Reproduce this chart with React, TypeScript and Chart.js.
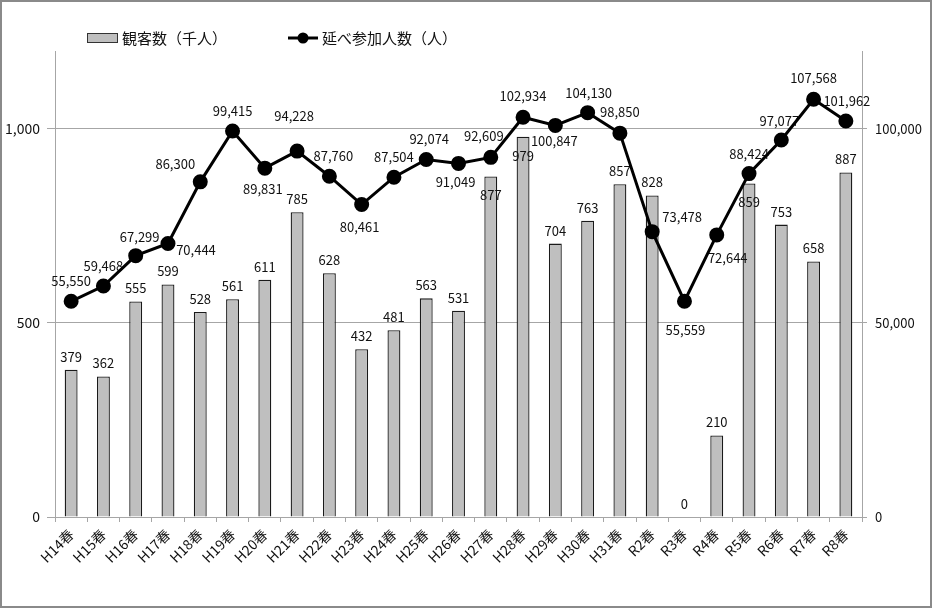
import React, { useEffect, useRef } from "react";
import { Chart, registerables } from "chart.js";

Chart.register(...registerables);

const FONT = '"Noto Sans CJK JP", "Noto Sans", sans-serif';

const categories = [
  "H14春", "H15春", "H16春", "H17春", "H18春", "H19春", "H20春", "H21春", "H22春",
  "H23春", "H24春", "H25春", "H26春", "H27春", "H28春", "H29春", "H30春", "H31春",
  "R2春", "R3春", "R4春", "R5春", "R6春", "R7春", "R8春",
];

// 観客数（千人）
const audience = [
  379, 362, 555, 599, 528, 561, 611, 785, 628, 432, 481, 563, 531, 877, 979, 704,
  763, 857, 828, 0, 210, 859, 753, 658, 887,
];

// 延べ参加人数（人）
const participants = [
  55550, 59468, 67299, 70444, 86300, 99415, 89831, 94228, 87760, 80461, 87504, 92074,
  91049, 92609, 102934, 100847, 104130, 98850, 73478, 55559, 72644, 88424, 97077,
  107568, 101962,
];

const leftTicks = [0, 500, 1000];
const rightTicks = [0, 50000, 100000];

const legendBar = "観客数（千人）";
const legendLine = "延べ参加人数（人）";

// label placement (offset of label centre from its point), style only
const lineLabelOffsets: [number, number][] = [
  [0, -20], [0, -20], [4, -19], [28, 7], [-25, -18], [0, -20], [-2, 21], [-3, -35],
  [4, -20], [-2, 23], [0, -20], [3, -20], [-3, 19], [-7, -21], [0, -21], [-1, 16],
  [1, -20], [0, -21], [30, -15], [1, 29], [11, 23], [0, -20], [-2, -19], [0, -21],
  [1, -20],
];
const barLabelInside = [13, 14, 21];

const fmt = (v: number) => Number(v).toLocaleString("en-US");

const labelsPlugin = {
  id: "customLabels",
  beforeDatasetDraw(chart: any, args: any) {
    if (args.index !== 0) return;
    const ctx = chart.ctx;
    ctx.save();
    ctx.font = `13px ${FONT}`;
    ctx.fillStyle = "#111";
    ctx.textAlign = "center";
    ctx.textBaseline = "middle";
    const barMeta = chart.getDatasetMeta(1);
    barMeta.data.forEach((el: any, i: number) => {
      const dy = barLabelInside.includes(i) ? 19 : -13;
      ctx.fillText(fmt(audience[i]), el.x, el.y + dy);
    });
    const lineMeta = chart.getDatasetMeta(0);
    lineMeta.data.forEach((el: any, i: number) => {
      const [dx, dy] = lineLabelOffsets[i];
      ctx.fillText(fmt(participants[i]), el.x + dx, el.y + dy);
    });
    ctx.restore();
  },
  beforeDraw(chart: any) {
    const ctx = chart.ctx;
    ctx.save();
    ctx.fillStyle = "#fff";
    ctx.fillRect(0, 0, chart.width, chart.height);
    ctx.restore();
  },
  afterDraw(chart: any) {
    const ctx = chart.ctx;
    ctx.save();
    // legend
    ctx.fillStyle = "#bfbfbf";
    ctx.fillRect(87.5, 33.5, 30, 9);
    ctx.strokeStyle = "#333";
    ctx.lineWidth = 1;
    ctx.strokeRect(87.5, 33.5, 30, 9);
    ctx.font = `15px ${FONT}`;
    ctx.fillStyle = "#111";
    ctx.textAlign = "left";
    ctx.textBaseline = "middle";
    ctx.fillText(legendBar, 122, 38);
    ctx.strokeStyle = "#000";
    ctx.lineWidth = 3;
    ctx.beginPath();
    ctx.moveTo(288, 38);
    ctx.lineTo(318, 38);
    ctx.stroke();
    ctx.fillStyle = "#000";
    ctx.beginPath();
    ctx.arc(303, 38, 5.5, 0, Math.PI * 2);
    ctx.fill();
    ctx.fillStyle = "#111";
    ctx.fillText(legendLine, 322, 38);
    // outer border
    ctx.strokeStyle = "#8a8a8a";
    ctx.lineWidth = 2;
    ctx.strokeRect(1, 1, chart.width - 2, chart.height - 2);
    ctx.restore();
  },
};

export default function App() {
  const ref = useRef<HTMLCanvasElement | null>(null);

  useEffect(() => {
    document.body.style.margin = "0";
    if (!ref.current) return;
    const gridColor = "#a6a6a6";
    const chart = new Chart(ref.current, {
      type: "bar",
      data: {
        labels: categories,
        datasets: [
          {
            type: "line",
            label: legendLine,
            data: participants,
            yAxisID: "y1",
            borderColor: "#000",
            backgroundColor: "#000",
            borderWidth: 3,
            pointRadius: 6,
            pointBackgroundColor: "#000",
            pointBorderColor: "#000",
            tension: 0,
          } as any,
          {
            type: "bar",
            label: legendBar,
            data: audience,
            yAxisID: "y",
            backgroundColor: "#bfbfbf",
            borderColor: "#1a1a1a",
            borderWidth: 1.3,
            barPercentage: 0.4,
            categoryPercentage: 1,
          } as any,
        ],
      },
      options: {
        responsive: false,
        animation: false,
        layout: { padding: { top: 51, left: 0, right: 0, bottom: 0 } },
        plugins: {
          legend: { display: false },
          tooltip: { enabled: false },
        },
        scales: {
          x: {
            grid: {
              display: true,
              drawOnChartArea: false,
              drawTicks: true,
              tickLength: 5,
              color: gridColor,
              offset: true,
            },
            border: { color: gridColor },
            ticks: {
              font: { family: FONT, size: 14 },
              color: "#111",
              maxRotation: 45,
              minRotation: 45,
              autoSkip: false,
              padding: 4,
            },
            afterFit: (s: any) => {
              s.height = 91;
            },
          },
          y: {
            position: "left",
            min: 0,
            max: 1200,
            ticks: {
              stepSize: 500,
              font: { family: FONT, size: 14 },
              color: "#111",
              padding: 7,
              callback: (v: any) => fmt(v),
            },
            grid: { color: gridColor, tickLength: 8 },
            border: { color: gridColor },
            afterBuildTicks: (s: any) => {
              s.ticks = leftTicks.map((v) => ({ value: v }));
            },
            afterFit: (s: any) => {
              s.width = 55;
            },
          },
          y1: {
            position: "right",
            min: 0,
            max: 120000,
            ticks: {
              stepSize: 50000,
              font: { family: FONT, size: 13 },
              color: "#111",
              padding: 8,
              callback: (v: any) => fmt(v),
            },
            grid: { drawOnChartArea: false, color: gridColor, tickLength: 5 },
            border: { color: gridColor },
            afterBuildTicks: (s: any) => {
              s.ticks = rightTicks.map((v) => ({ value: v }));
            },
            afterFit: (s: any) => {
              s.width = 70;
            },
          },
        },
      } as any,
      plugins: [labelsPlugin],
    });
    return () => chart.destroy();
  }, []);

  return (
    <div style={{ width: 932, height: 608 }}>
      <canvas ref={ref} width={932} height={608} />
    </div>
  );
}
